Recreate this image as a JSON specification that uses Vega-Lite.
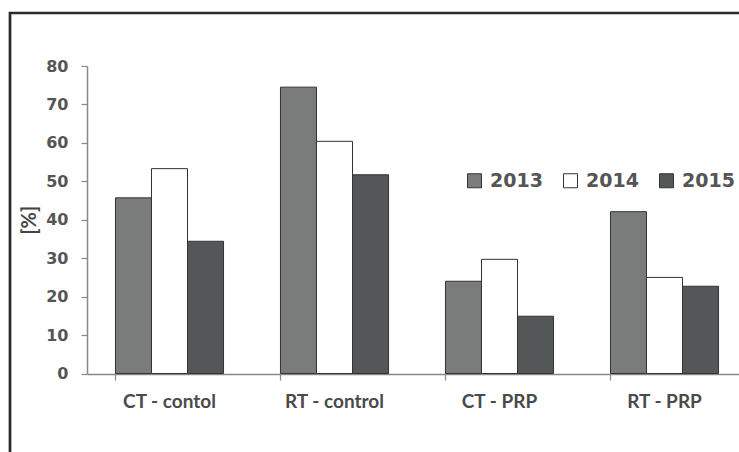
{
  "$schema": "https://vega.github.io/schema/vega-lite/v6.json",
  "width": 729,
  "height": 439,
  "autosize": {"type": "none"},
  "padding": {"left": 10, "top": 13, "right": 0, "bottom": 0},
  "background": "white",
  "data": {
    "values": [
      {"group": "CT - contol", "year": "2013", "value": 45.7},
      {"group": "CT - contol", "year": "2014", "value": 53.3},
      {"group": "CT - contol", "year": "2015", "value": 34.4},
      {"group": "RT - control", "year": "2013", "value": 74.5},
      {"group": "RT - control", "year": "2014", "value": 60.4},
      {"group": "RT - control", "year": "2015", "value": 51.7},
      {"group": "CT - PRP", "year": "2013", "value": 24.0},
      {"group": "CT - PRP", "year": "2014", "value": 29.7},
      {"group": "CT - PRP", "year": "2015", "value": 14.9},
      {"group": "RT - PRP", "year": "2013", "value": 42.1},
      {"group": "RT - PRP", "year": "2014", "value": 25.0},
      {"group": "RT - PRP", "year": "2015", "value": 22.7}
    ]
  },
  "mark": {"type": "bar", "stroke": "#333333", "strokeWidth": 1},
  "encoding": {
    "x": {
      "field": "group",
      "type": "nominal",
      "sort": ["CT - contol", "RT - control", "CT - PRP", "RT - PRP"],
      "scale": {"range": [77, 737], "paddingInner": 0.345, "paddingOuter": 0.1725},
      "axis": {
        "title": null,
        "orient": "bottom",
        "offset": -78,
        "labelAngle": 0,
        "bandPosition": 0,
        "tickSize": 6,
        "tickColor": "#888888",
        "tickWidth": 1.2,
        "domainColor": "#888888",
        "domainWidth": 1.5,
        "labelFont": "Lato",
        "labelFontWeight": "bold",
        "labelFontSize": 19,
        "labelColor": "#4a4a4a",
        "labelPadding": 12
      }
    },
    "xOffset": {
      "field": "year",
      "type": "nominal",
      "scale": {"paddingInner": 0, "paddingOuter": 0}
    },
    "y": {
      "field": "value",
      "type": "quantitative",
      "scale": {"domain": [0, 80], "range": [360.5, 53], "nice": false},
      "axis": {
        "title": "[%]",
        "offset": -77,
        "values": [0, 10, 20, 30, 40, 50, 60, 70, 80],
        "grid": false,
        "tickSize": 6,
        "tickColor": "#888888",
        "tickWidth": 1.2,
        "domainColor": "#888888",
        "domainWidth": 1.5,
        "labelFont": "DejaVu Sans",
        "labelFontWeight": "bold",
        "labelFontSize": 16,
        "labelColor": "#555555",
        "labelPadding": 13,
        "titleFont": "Lato",
        "titleFontWeight": "bold",
        "titleFontSize": 20,
        "titleColor": "#444444",
        "titlePadding": 6
      }
    },
    "color": {
      "field": "year",
      "type": "nominal",
      "scale": {"domain": ["2013", "2014", "2015"], "range": ["#7a7c7c", "#ffffff", "#545757"]},
      "legend": {
        "title": null,
        "orient": "none",
        "legendX": 455,
        "legendY": 158,
        "direction": "horizontal",
        "columns": 3,
        "padding": 0,
        "symbolType": "square",
        "symbolSize": 196,
        "symbolStrokeColor": "#333333",
        "symbolStrokeWidth": 1,
        "labelFont": "DejaVu Sans",
        "labelFontWeight": "bold",
        "labelFontSize": 19,
        "labelColor": "#555555",
        "labelOffset": 6,
        "columnPadding": 18
      }
    }
  },
  "config": {
    "view": {"stroke": "#2a2a2a", "strokeWidth": 2.7, "strokeDash": [729, 1168, 439, 1]}
  }
}
